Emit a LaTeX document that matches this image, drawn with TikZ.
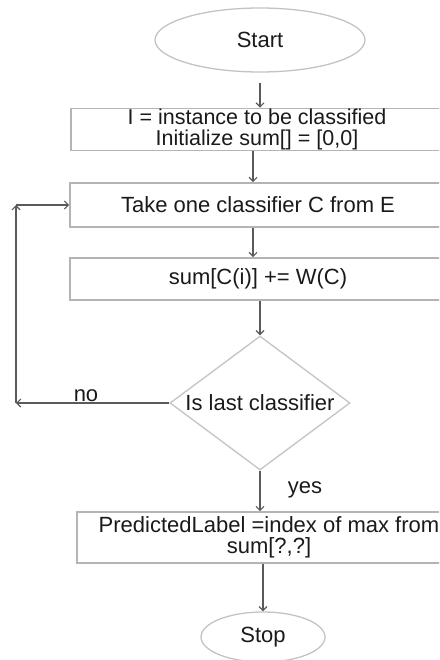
\documentclass[tikz,border=0pt]{standalone}
\usepackage{fontspec}
\setmainfont{Liberation Sans}
\usetikzlibrary{shapes.geometric,arrows.meta}
\definecolor{boxgray}{HTML}{B4B4B4}
\definecolor{arrgray}{HTML}{5A5A5A}
\definecolor{txt}{HTML}{1A1A1A}
\tikzset{
  base/.style={font=\fontsize{22}{21}\selectfont, text=txt, inner sep=0pt},
  procbox/.style={base, draw=boxgray, line width=1.6pt, rectangle, align=center},
  term/.style={base, draw=boxgray!80, line width=1.3pt, ellipse},
  decision/.style={draw=boxgray!80, line width=1.3pt, diamond, inner sep=0pt},
  arr/.style={draw=arrgray, line width=1.2pt, -{Straight Barb[length=4pt,width=8pt]}},
  lbl/.style={base}
}
\begin{document}
\begin{tikzpicture}[x=1pt,y=-1pt]
\useasboundingbox (0,0) rectangle (439,660);
\clip (0,0) rectangle (439.2,660);
% terminals
\node[term, minimum width=210, minimum height=64] (start) at (260,40) {Start};
\node[term, minimum width=124, minimum height=50] (stop) at (263,637) {Stop};
% process boxes (right edges run off the picture)
\node[procbox, font=\fontsize{21.5}{21}\selectfont, minimum width=372, minimum height=42] (box1) at (257,129.5)
  {I = instance to be classified\\[0pt]Initialize sum[] = [0,0]};
\node[procbox, minimum width=376, minimum height=44] (box2) at (258,205)
  {Take one classifier C from E};
\node[procbox, minimum width=376, minimum height=42] (box3) at (258,279)
  {sum[C(i)] += W(C)};
\node[procbox, minimum width=384, minimum height=51] (box4) at (269,537.5)
  {PredictedLabel =index of max from\\[0pt]sum[?,?]};
% decision
\node[decision, minimum width=180, minimum height=134] (dec) at (260,403) {};
\node[base] (dectxt) at (dec.center) {Is last classifier};
% connectors
\draw[arr, shorten <=10pt] (start.south) -- (start.south |- box1.north);
\draw[arr] (253,0 |- box1.south) -- (253,0 |- box2.north);
\draw[arr] (253,0 |- box2.south) -- (253,0 |- box3.north);
\draw[arr] (260,0 |- box3.south) -- (dec.north);
\draw[arr] (dec.south) -- (dec.south |- box4.north);
\draw[arr] (263,0 |- box4.south) -- (stop.north);
% "no" loop
\coordinate (lb) at (16,0 |- dec.west);
\coordinate (lt) at (16,0 |- box2.west);
\draw[arr] (dec.west) -- (lb);
\draw[arr] (lb) -- (lt);
\draw[arr] (lt) -- (box2.west);
% labels
\node[lbl] (no) at (86,396) {no};
\node[lbl] (yes) at (305,490) {yes};
\end{tikzpicture}
\end{document}
